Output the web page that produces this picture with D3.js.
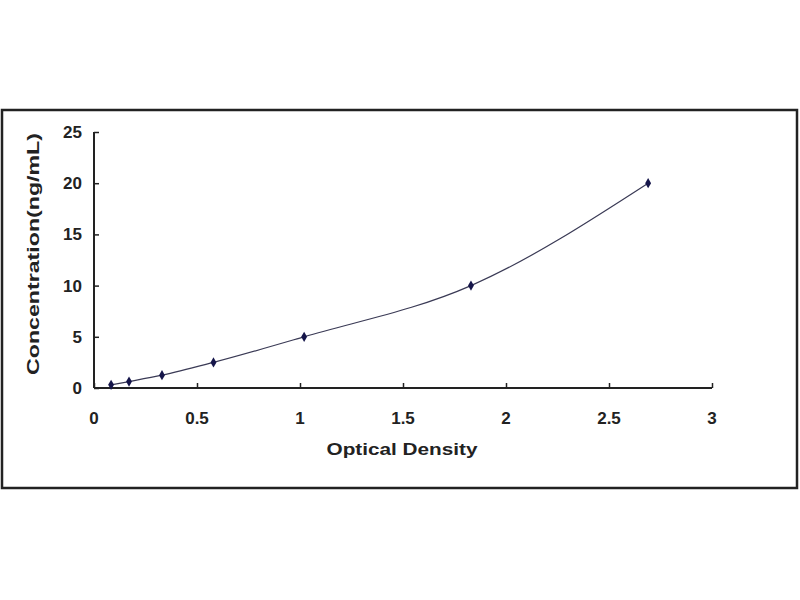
<!DOCTYPE html>
<html lang="en">
  <head>
    <meta charset="UTF-8" />
    <title>Standard Curve</title>
    <script src="https://cdnjs.cloudflare.com/ajax/libs/d3/7.8.5/d3.min.js"></script>
    <style>
      body { margin: 0; background: #fff; }
      text { font-family: "Liberation Sans", Arial, sans-serif; font-weight: bold; fill: #222; }
    </style>
  </head>
  <body>
    <div id="chart"></div>
    <script>
      /** Data */
      const opticalDensity = [0.083, 0.17, 0.33, 0.58, 1.02, 1.83, 2.69];
      const concentration = [0.31, 0.63, 1.25, 2.5, 5, 10, 20];
      const xTicks = [0, 0.5, 1, 1.5, 2, 2.5, 3];
      const yTicks = [0, 5, 10, 15, 20, 25];

      /** Layout */
      const width = 800;
      const height = 600;
      const plotLeft = 94, plotRight = 712, plotTop = 132, plotBottom = 388;
      const tickLen = 5;
      const ink = "#222";

      const points = opticalDensity.map((d, i) => [d, concentration[i]]);

      const xScale = d3.scaleLinear().domain([0, 3]).range([plotLeft, plotRight]);
      const yScale = d3.scaleLinear().domain([0, 25]).range([plotBottom, plotTop]);

      const svg = d3.select("#chart").append("svg")
        .attr("width", width)
        .attr("height", height);

      /** Outer frame */
      svg.append("rect")
        .attr("x", 2).attr("y", 110)
        .attr("width", 795).attr("height", 378)
        .attr("fill", "none")
        .attr("stroke", ink)
        .attr("stroke-width", 2.5);

      /** Axes, ticks pointing inward */
      const xAxis = d3.axisTop(xScale).tickValues(xTicks).tickSize(tickLen).tickFormat("");
      const yAxis = d3.axisRight(yScale).tickValues(yTicks).tickSize(tickLen).tickFormat("");

      const gx = svg.append("g").attr("transform", `translate(0, ${plotBottom})`).call(xAxis);
      const gy = svg.append("g").attr("transform", `translate(${plotLeft}, 0)`).call(yAxis);
      [gx, gy].forEach((g) => {
        g.select(".domain").attr("stroke", ink).attr("stroke-width", 2);
        g.selectAll(".tick line").attr("stroke", ink).attr("stroke-width", 1.5);
      });
      gx.select(".domain").attr("d", `M${plotLeft},0H${plotRight}`);
      gy.select(".domain").attr("d", `M0,${plotTop}V${plotBottom}`);

      /** Tick labels */
      svg.append("g").selectAll("text").data(xTicks).enter()
        .append("text")
        .attr("x", (d) => xScale(d))
        .attr("y", 424)
        .attr("text-anchor", "middle")
        .attr("font-size", 17)
        .text((d) => d);

      svg.append("g").selectAll("text").data(yTicks).enter()
        .append("text")
        .attr("x", 82)
        .attr("y", (d) => yScale(d) + 6)
        .attr("text-anchor", "end")
        .attr("font-size", 17)
        .text((d) => d);

      /** Axis titles */
      svg.append("text")
        .attr("x", 402).attr("y", 455)
        .attr("text-anchor", "middle")
        .attr("font-size", 17)
        .attr("textLength", 151)
        .attr("lengthAdjust", "spacingAndGlyphs")
        .text("Optical Density");

      svg.append("text")
        .attr("transform", "translate(39, 254) rotate(-90)")
        .attr("text-anchor", "middle")
        .attr("font-size", 17)
        .attr("textLength", 242)
        .attr("lengthAdjust", "spacingAndGlyphs")
        .text("Concentration(ng/mL)");

      /** Fitted curve */
      const line = d3.line()
        .x((d) => xScale(d[0]))
        .y((d) => yScale(d[1]))
        .curve(d3.curveMonotoneX);

      svg.append("path")
        .datum(points)
        .attr("d", line)
        .attr("fill", "none")
        .attr("stroke", "#3a3a55")
        .attr("stroke-width", 1.2);

      /** Markers */
      svg.append("g").selectAll("path").data(points).enter()
        .append("path")
        .attr("transform", (d) => `translate(${xScale(d[0])}, ${yScale(d[1])})`)
        .attr("d", d3.symbol().type(d3.symbolDiamond).size(30))
        .attr("fill", "#15154a");
    </script>
  </body>
</html>
